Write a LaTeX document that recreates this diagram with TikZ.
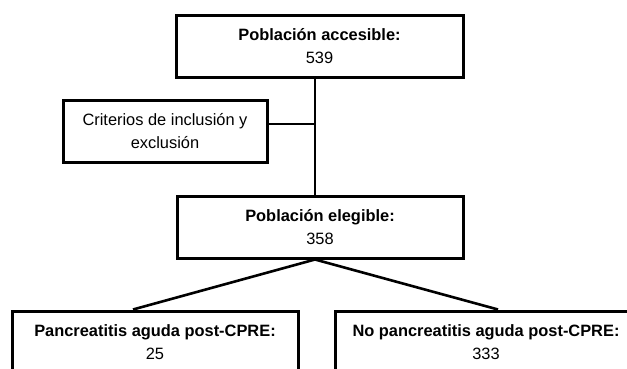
\documentclass[tikz,border=0pt]{standalone}
\usepackage{fontspec}
\setmainfont{Liberation Sans}
\begin{document}
\begin{tikzpicture}[x=1pt,y=1pt,
	box/.style={draw,line width=3pt,minimum height=62pt,inner sep=0pt,align=center,font=\fontsize{16.4}{23}\selectfont},
	link/.style={line width=2.6pt}]
	\useasboundingbox (0,0) rectangle (627,368);
	\node[box,minimum width=287pt] (acc) at (319.5,322) {\textbf{Población accesible:}\\539};
	\node[box,minimum width=204pt] (crit) at (165,237) {Criterios de inclusión y\\exclusión};
	\node[box,minimum width=286pt] (eleg) at (320,141) {\textbf{Población elegible:}\\358};
	\node[box,minimum width=286pt] (pa) at (155,26) {\textbf{Pancreatitis aguda post-CPRE:}\\25};
	\node[box,minimum width=302pt] (nopa) at (486,26) {\textbf{No pancreatitis aguda post-CPRE:}\\333};
	\coordinate (j) at (315,244);
	\draw[link] (acc.south -| j)--(eleg.north -| j);
	\draw[link] (crit.east |- j)--(j);
	\draw[link] (eleg.south -| j)--([xshift=-22pt]pa.north);
	\draw[link] (eleg.south -| j)--([xshift=12pt]nopa.north);
\end{tikzpicture}
\end{document}
